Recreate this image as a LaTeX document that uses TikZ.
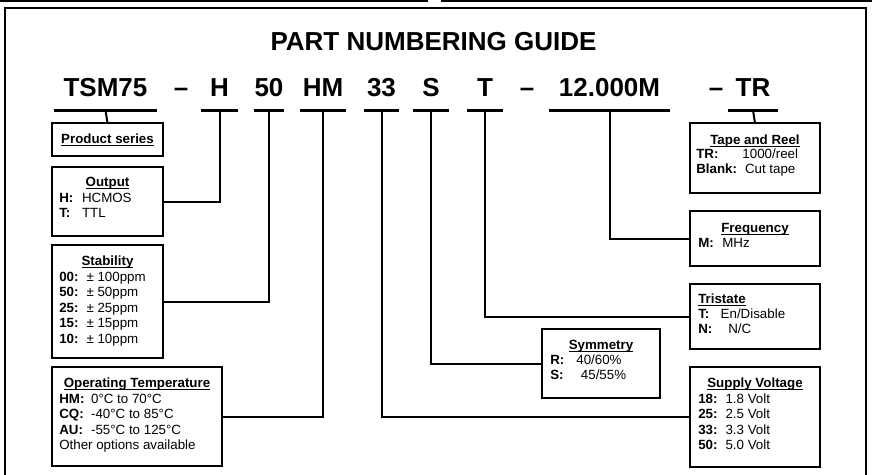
\documentclass[tikz,border=0pt]{standalone}
\usepackage{fontspec}
\setmainfont{Liberation Sans}
\usetikzlibrary{positioning}

% underlined box heading
\newcommand\hd[1]{\setbox0\hbox{\bfseries #1}\rlap{\rule[-1.6pt]{\wd0}{0.7pt}}\box0}
\newcommand\pxl{0.75pt}

\begin{document}
\begin{tikzpicture}[
			x=0.75pt, y=-0.75pt,
			frame/.style={line width=1.5pt},
			bar/.style={line width=2.4pt},
			link/.style={line width=1.5pt},
			big/.style={font=\fontsize{19.5}{22}\bfseries, inner sep=0pt, anchor=base},
			part/.style={big, text depth=10.5pt},
			box/.style={draw, line width=2pt, anchor=north west, inner sep=0pt, outer sep=0pt},
			head/.style={anchor=base, inner sep=0pt, font=\fontsize{10}{11.6}\selectfont},
			body/.style={anchor=base west, inner sep=0pt, font=\fontsize{10}{11.6}\selectfont}
	]
	\useasboundingbox (0,0) rectangle (872,475);

	% page rules and frame
	\draw[frame] (0,1) -- (428,1);
	\draw[frame] (441,1) -- (872,1);
	\draw[frame] (5,476) -- (5,8) -- (866,8) -- (866,476);

	\node[big] (title) at (433.5,50) {PART NUMBERING GUIDE};

	% part number fields
	\node[part, minimum width=102*\pxl] (tsm) at (105.5,96) {TSM75};
	\node[part] (d1) at (181,96) {--};
	\node[part, minimum width=36*\pxl] (out) at (219.5,96) {H};
	\node[part, minimum width=30*\pxl] (stab) at (269,96) {50};
	\node[part, minimum width=45*\pxl] (temp) at (323,96) {HM};
	\node[part, minimum width=35*\pxl] (volt) at (381.5,96) {33};
	\node[part, minimum width=36*\pxl] (sym) at (431,96) {S};
	\node[part, minimum width=36*\pxl] (tri) at (485,96) {T};
	\node[part] (d2) at (527,96) {--};
	\node[part, minimum width=120*\pxl] (freq) at (609.5,96) {12.000M};
	\node[part] (d3) at (716,96) {--};
	\node[part, minimum width=49*\pxl] (tape) at (753,96) {TR};

	\foreach \p in {tsm,out,stab,temp,volt,sym,tri,freq,tape}
		\draw[bar] (\p.south west) -- (\p.south east);

	% boxes
	\node[box, minimum width=111*\pxl, minimum height=33*\pxl] (tsmbox) at (52,123) {};
	\node[box, minimum width=111*\pxl, minimum height=69*\pxl] (outbox) at (52,167) {};
	\node[box, minimum width=111*\pxl, minimum height=113*\pxl] (stabbox) at (52,245) {};
	\node[box, minimum width=170*\pxl, minimum height=99*\pxl] (tempbox) at (52,367) {};
	\node[box, minimum width=118*\pxl, minimum height=69*\pxl] (symbox) at (542,329) {};
	\node[box, minimum width=130*\pxl, minimum height=100*\pxl] (voltbox) at (690,367) {};
	\node[box, minimum width=130*\pxl, minimum height=65*\pxl] (tribox) at (690,284) {};
	\node[box, minimum width=130*\pxl, minimum height=55*\pxl] (freqbox) at (690,211) {};
	\node[box, minimum width=130*\pxl, minimum height=70*\pxl] (tapebox) at (690,123) {};

	% box texts
	\node[head] (tsmhd) at (107.5,143.5) {\hd{Product series}};

	\node[head] (outhd) at (107.5,186.5) {\hd{Output}};
	\node[body] (outtx) at (59,202.5) {\begin{tabular}[t]{@{}l@{\hspace{6.5pt}}l@{}}
		\textbf{H:} & HCMOS\\ \textbf{T:} & TTL\end{tabular}};

	\node[head] (stabhd) at (107.5,265.5) {\hd{Stability}};
	\node[body] (stabtx) at (59,281.5) {\begin{tabular}[t]{@{}l@{\hspace{6pt}}l@{}}
		\textbf{00:} & ± 100ppm\\ \textbf{50:} & ± 50ppm\\ \textbf{25:} & ± 25ppm\\
		\textbf{15:} & ± 15ppm\\ \textbf{10:} & ± 10ppm\end{tabular}};

	\node[head] (temphd) at (137,387.5) {\hd{Operating Temperature}};
	\node[body] (temptx) at (59,403.5) {\begin{tabular}[t]{@{}l@{\hspace{5pt}}l@{}}
		\textbf{HM:} & 0°C to 70°C\\ \textbf{CQ:} & -40°C to 85°C\\
		\textbf{AU:} & -55°C to 125°C\\ \multicolumn{2}{@{}l@{}}{Other options available}\end{tabular}};

	\node[head] (symhd) at (601,349.5) {\hd{Symmetry}};
	\node[body] (symtx) at (550,364.5) {\begin{tabular}[t]{@{}l@{}}
		\textbf{R:}\hspace{9pt}40/60\%\\ \textbf{S:}\hspace{13pt}45/55\%\end{tabular}};

	\node[head] (volthd) at (755,387.5) {\hd{Supply Voltage}};
	\node[body] (volttx) at (698,403.5) {\begin{tabular}[t]{@{}l@{\hspace{6pt}}l@{}}
		\textbf{18:} & 1.8 Volt\\ \textbf{25:} & 2.5 Volt\\
		\textbf{33:} & 3.3 Volt\\ \textbf{50:} & 5.0 Volt\end{tabular}};

	\node[head, anchor=base west] (trihd) at (698,303.5) {\hd{Tristate}};
	\node[body] (tritx) at (698,318.5) {\begin{tabular}[t]{@{}l@{}}
		\textbf{T:}\hspace{8.5pt}En/Disable\\ \textbf{N:}\hspace{12pt}N/C\end{tabular}};

	\node[head] (freqhd) at (755,232.5) {\hd{Frequency}};
	\node[body] (freqtx) at (698,247.5) {\textbf{M:}\hspace{6.4pt}MHz};

	\node[head] (tapehd) at (755,144.5) {\hd{Tape and Reel}};
	\node[body] (tapetx) at (696,158.5) {\begin{tabular}[t]{@{}l@{}}
		\textbf{TR:}\hspace{18pt}1000/reel\\ \textbf{Blank:}\hspace{6pt}Cut tape\end{tabular}};

	% connectors
	\draw[link] (tsm.south) -- (tsmbox.north);
	\draw[link] (out.south) |- (outbox.east);
	\draw[link] (stab.south) |- (stabbox.east);
	\draw[link] (temp.south) |- (tempbox.east);
	\draw[link] (volt.south) |- (voltbox.west);
	\draw[link] (sym.south) |- (symbox.west);
	\draw[link] (tri.south) |- (tribox.west);
	\draw[link] (freq.south) |- (freqbox.west);
	\draw[link] (tape.south) -- (tapebox.north);
\end{tikzpicture}
\end{document}
